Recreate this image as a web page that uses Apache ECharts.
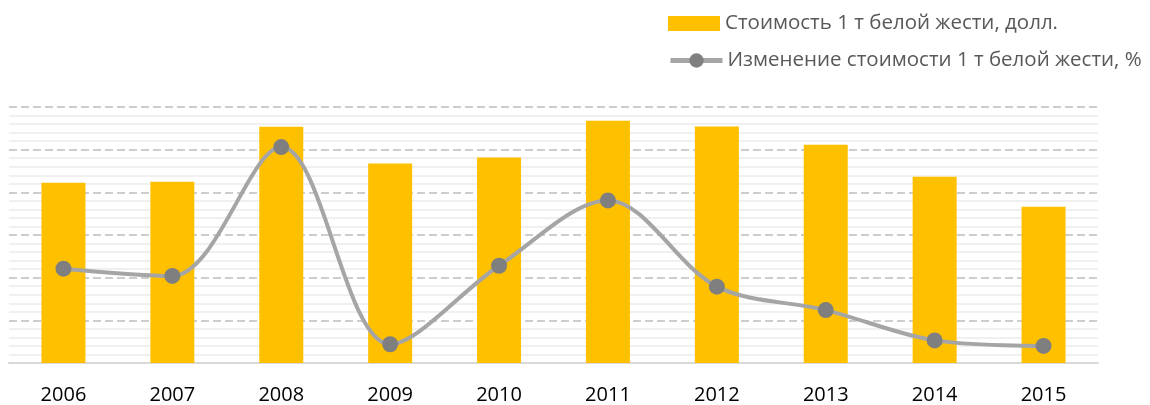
<!DOCTYPE html>
<html>
<head>
    <meta charset="UTF-8">
    <script src="https://cdn.jsdelivr.net/npm/echarts@6/dist/echarts.min.js"></script>
    <style>
        html, body { margin: 0; padding: 0; background: #fff; }
        #main { width: 1150px; height: 405px; }
    </style>
</head>
<body>
<div id="main"></div>
<script type="text/javascript">
    // годы
    var years = ['2006', '2007', '2008', '2009', '2010', '2011', '2012', '2013', '2014', '2015'];
    // стоимость 1 т белой жести, долл.
    var price = [845, 850, 1107, 935, 963, 1135, 1109, 1023, 873, 733];
    // изменение стоимости, %
    var change = [-7.9, -9.6, 20.6, -25.6, -7.2, 8.1, -12.1, -17.6, -24.7, -26.0];

    var barName = 'Стоимость 1 т белой жести, долл.';
    var lineName = 'Изменение стоимости 1 т белой жести, %';

    var myChart = echarts.init(document.getElementById('main'));
    var font = 'Open Sans, Liberation Sans, sans-serif';
    var legendText = { fontSize: 20.5, color: '#595959', fontFamily: font };
    var option = {
        animation: false,
        legend: [
            {
                left: 668,
                top: 13,
                padding: 0,
                itemWidth: 52,
                itemHeight: 15,
                textStyle: legendText,
                data: [{ name: barName, icon: 'rect' }]
            },
            {
                left: 668,
                top: 50,
                padding: 0,
                itemWidth: 52,
                itemHeight: 18,
                textStyle: legendText,
                data: [{ name: lineName, lineStyle: { width: 5 } }]
            }
        ],
        grid: { left: 9, right: 52, top: 107, bottom: 40 },
        xAxis: {
            type: 'category',
            data: years,
            axisTick: { show: false },
            axisLine: { lineStyle: { color: '#D9D9D9', width: 2 } },
            axisLabel: { fontSize: 20, color: '#000', fontFamily: font, margin: 22 }
        },
        yAxis: [
            {
                type: 'value',
                min: 0,
                max: 1200,
                interval: 200,
                axisLabel: { show: false },
                axisLine: { show: false },
                axisTick: { show: false },
                splitLine: { lineStyle: { color: '#BDBDBD', type: [8, 4], width: 1.5 } },
                minorTick: { show: false, splitNumber: 5 },
                minorSplitLine: { show: true, lineStyle: { color: '#F0F0F0', width: 2 } }
            },
            {
                type: 'value',
                min: -30,
                max: 30,
                interval: 10,
                show: false,
                splitLine: { show: false }
            }
        ],
        series: [
            {
                name: barName,
                type: 'bar',
                data: price,
                barWidth: 44,
                itemStyle: { color: '#FFC000' }
            },
            {
                name: lineName,
                type: 'line',
                yAxisIndex: 1,
                data: change,
                smooth: 0.33,
                symbol: 'circle',
                symbolSize: 16,
                z: 5,
                lineStyle: { color: '#A5A5A5', width: 4 },
                itemStyle: { color: '#7F7F7F' }
            }
        ]
    };
    myChart.setOption(option);
</script>
</body>
</html>
